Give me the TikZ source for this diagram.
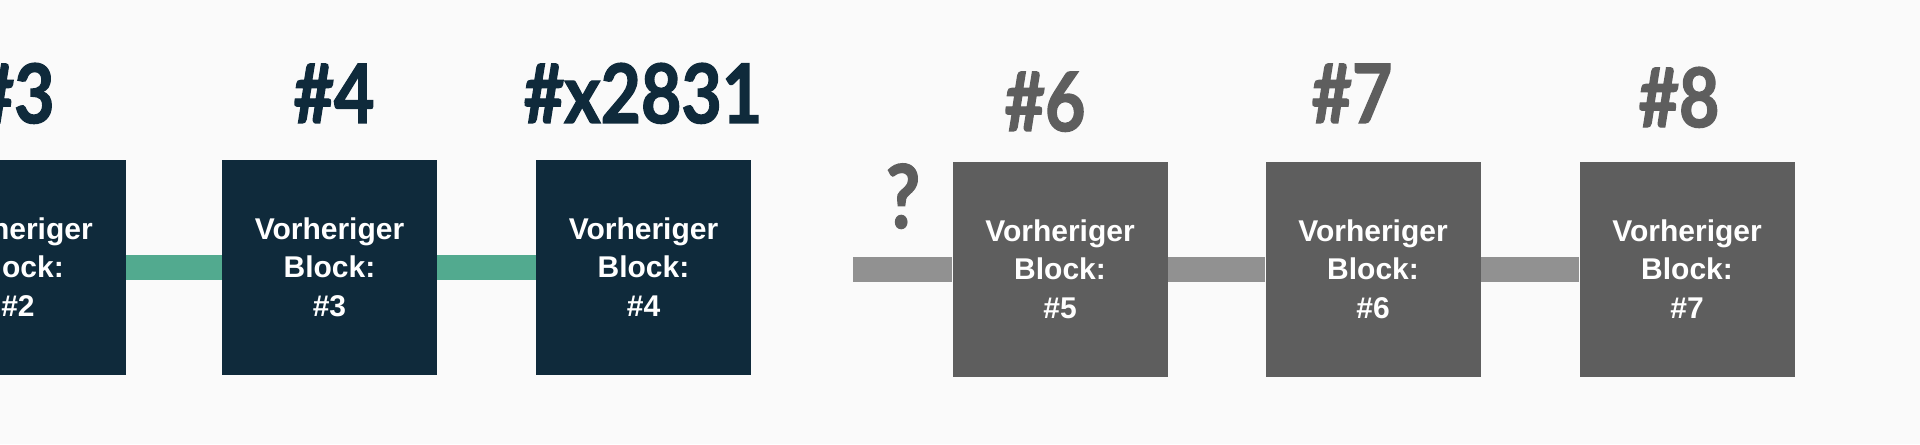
\documentclass[tikz,border=0pt]{standalone}
\usepackage{fontspec}
\setmainfont{Liberation Sans}
\newfontfamily\titlefont{Lato}[FakeStretch=0.85, BoldFeatures={FakeBold=1.6}]

\definecolor{navy}{HTML}{0F2A3B}
\definecolor{chaingreen}{HTML}{52AA8F}
\definecolor{boxgray}{HTML}{5E5E5E}
\definecolor{linkgray}{HTML}{919191}
\definecolor{paper}{HTML}{FAFAFA}

\begin{document}
\begin{tikzpicture}[x=0.5pt,y=-0.5pt,
  block/.style={minimum width=107.5pt, minimum height=107.5pt, inner sep=0pt,
    align=center, text=white, font=\fontsize{15}{19.25}\selectfont\bfseries},
  number/.style={inner sep=0pt, anchor=base, font=\titlefont\fontsize{41}{41}\selectfont\bfseries},
  link/.style={line width=12.5pt}]

  \fill[paper] (0,0) rectangle (1920,444);
  \useasboundingbox (0,0) rectangle (1920,444);

  \def\ydark{267}
  \def\ygray{269}

  \coordinate (q) at (853,\ygray);

  % the valid chain
  \node[block, fill=navy] (blk3) at (18,\ydark) {Vorheriger\\Block:\\\#2};
  \node[block, fill=navy] (blk4) at (329.5,\ydark) {Vorheriger\\Block:\\\#3};
  \node[block, fill=navy] (blk2831) at (643.5,\ydark) {Vorheriger\\Block:\\\#4};

  % the broken chain
  \node[block, fill=boxgray] (blk6) at (1060,\ygray) {Vorheriger\\Block:\\\#5};
  \node[block, fill=boxgray] (blk7) at (1373,\ygray) {Vorheriger\\Block:\\\#6};
  \node[block, fill=boxgray] (blk8) at (1687,\ygray) {Vorheriger\\Block:\\\#7};

  \draw[link, chaingreen] (blk3.east) -- (blk4.west);
  \draw[link, chaingreen] (blk4.east) -- (blk2831.west);
  \draw[link, linkgray] (q) -- (blk6.west);
  \draw[link, linkgray] (blk6.east) -- (blk7.west);
  \draw[link, linkgray] (blk7.east) -- (blk8.west);

  \node[number, anchor=base east, text=navy] (num3) at (55,123) {\#3};
  \node[number, text=navy] (num4) at (334,123) {\#4};
  \node[number, text=navy] (num2831) at (643,123) {\#x2831};
  \node[number, text=boxgray] (num6) at (1045,131) {\#6};
  \node[number, text=boxgray] (num7) at (1352,123) {\#7};
  \node[number, text=boxgray] (num8) at (1679,127) {\#8};

  \node[number, text=boxgray, font=\titlefont\fontsize{44}{44}\selectfont\bfseries] (ask) at (903,228) {?};

\end{tikzpicture}
\end{document}
